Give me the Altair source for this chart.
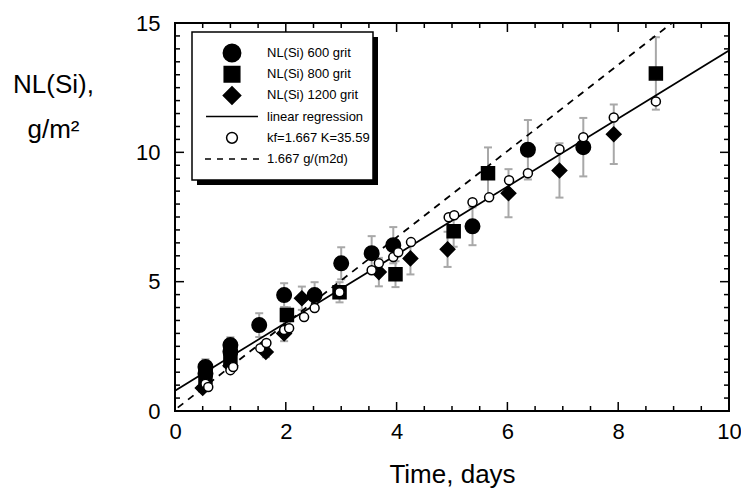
import altair as alt
import pandas as pd

# ---------------- data ----------------
labels = ["NL(Si) 600 grit", "NL(Si) 800 grit", "NL(Si) 1200 grit",
          "linear regression", "kf=1.667 K=35.59", "1.667 g/(m2d)"]

t600 = [0.55, 0.55, 1.00, 1.00, 1.52, 1.97, 2.52, 3.00, 3.55, 3.94, 5.37, 6.37, 7.37]
v600 = [1.70, 1.45, 2.55, 2.30, 3.32, 4.48, 4.48, 5.71, 6.10, 6.41, 7.14, 10.10, 10.20]
e600 = [0.30, 0.00, 0.30, 0.00, 0.46, 0.46, 0.50, 0.62, 0.66, 0.70, 0.73, 1.15, 1.13]

t800 = [0.55, 1.00, 2.02, 2.97, 3.98, 5.03, 5.65, 8.68]
v800 = [1.31, 1.97, 3.71, 4.59, 5.29, 6.95, 9.19, 13.05]
e800 = [0.20, 0.20, 0.30, 0.39, 0.50, 0.60, 1.00, 1.40]

t1200 = [0.50, 1.00, 1.64, 1.97, 2.29, 3.68, 4.25, 4.92, 6.02, 6.94, 7.92]
v1200 = [0.89, 1.75, 2.28, 3.00, 4.36, 5.37, 5.90, 6.25, 8.42, 9.30, 10.70]
e1200 = [0.15, 0.20, 0.20, 0.30, 0.45, 0.55, 0.62, 0.68, 0.93, 1.05, 1.15]

t_model = [0.55, 0.60, 1.00, 1.05, 1.54, 1.65, 1.97, 2.06, 2.33, 2.52, 2.97, 3.55, 3.68,
           3.94, 4.03, 4.26, 4.94, 5.04, 5.37, 5.67, 6.03, 6.37, 6.94, 7.37, 7.92, 8.68]
v_model = [1.05, 0.93, 1.58, 1.70, 2.43, 2.63, 3.13, 3.20, 3.63, 3.98, 4.59, 5.44, 5.71,
           5.95, 6.14, 6.53, 7.49, 7.57, 8.07, 8.26, 8.92, 9.19, 10.12, 10.58, 11.35, 11.97]

reg_t = [0.0, 10.0]
reg_v = [0.78, 13.94]
dash_t = [0.05, 8.97]
dash_v = [0.13, 15.0]

x_major = [0, 2, 4, 6, 8, 10]
x_minor = [0.5, 1, 1.5, 2.5, 3, 3.5, 4.5, 5, 5.5, 6.5, 7, 7.5, 8.5, 9, 9.5]
y_major = [0, 5, 10, 15]
y_minor = [v / 2 for v in range(31) if v % 10 != 0]

# ---------------- styles ----------------
PAD = "M0,-1.6M0,1.6"  # invisible moves: equal legend row heights
CIRCLE = "M1.45,0A1.45,1.45,0,1,1,-1.45,0A1.45,1.45,0,1,1,1.45,0Z" + PAD
SQUARE = "M-1.3,-1.3H1.3V1.3H-1.3Z" + PAD
DIAMOND = "M0,-1.45L1.45,0L0,1.45L-1.45,0Z" + PAD
LINE = "M-4.33,0H4.33" + PAD
OPEN = "M0.9,0A0.9,0.9,0,1,1,-0.9,0A0.9,0.9,0,1,1,0.9,0Z" + PAD
DASH = "M-4.5,0H-3.5M-2.5,0H-1.5M-0.5,0H0.5M1.5,0H2.5M3.5,0H4.5" + PAD
shape_range = [CIRCLE, SQUARE, DIAMOND, LINE, OPEN, DASH]
fill_range = ["black", "black", "black", "black", "white", "black"]
stroke_range = ["black"] * 6
GRAY = "#a8a8a8"
W, H = 554, 388
MAJ, MIN = 9, 5

# ---------------- tables ----------------
pts_rows = []
for lab, ts, vs in [(labels[2], t1200, v1200), (labels[1], t800, v800),
                    (labels[0], t600, v600), (labels[4], t_model, v_model)]:
    for t, v in zip(ts, vs):
        pts_rows.append({"s": lab, "t": t, "v": v})
pts = pd.DataFrame(pts_rows)

err_rows, cap_rows = [], []
for ts, vs, es in [(t600, v600, e600), (t800, v800, e800), (t1200, v1200, e1200)]:
    for t, v, e in zip(ts, vs, es):
        if e > 0:
            err_rows.append({"t": t, "lo": v - e, "hi": v + e})
            cap_rows.append({"t": t, "v": v - e})
            cap_rows.append({"t": t, "v": v + e})
errs_df = pd.DataFrame(err_rows)
caps_df = pd.DataFrame(cap_rows)
reg_df = pd.DataFrame({"t": reg_t, "v": reg_v})
dash_df = pd.DataFrame({"t": dash_t, "v": dash_v})

xs = alt.Scale(domain=[0, 10], nice=False, zero=False)
ys = alt.Scale(domain=[0, 15], nice=False, zero=False)

x_labels = alt.Axis(orient="bottom", values=x_major, ticks=False, domain=False, grid=False,
                    labelPadding=10, labelFlush=False, titleY=50, titleBaseline="top")
y_labels = alt.Axis(orient="left", values=y_major, ticks=False, domain=False, grid=False,
                    labelPadding=15, titleAngle=0, titleAlign="center",
                    titleBaseline="alphabetic", titleX=-122, titleY=69, titleLineHeight=45)


# inward tick marks on all four frame edges, positioned by the shared scales
def x_ticks(vals, length, at_bottom):
    y0 = H if at_bottom else 0
    y1 = H - length if at_bottom else length
    return alt.Chart(pd.DataFrame({"p": vals})).mark_rule(color="black", strokeWidth=1.5).encode(
        x=alt.X("p:Q", scale=xs, axis=None), y=alt.value(y0), y2=alt.value(y1))


def y_ticks(vals, length, at_left):
    x0 = 0 if at_left else W
    x1 = length if at_left else W - length
    return alt.Chart(pd.DataFrame({"p": vals})).mark_rule(color="black", strokeWidth=1.5).encode(
        y=alt.Y("p:Q", scale=ys, axis=None), x=alt.value(x0), x2=alt.value(x1))


ticks = [x_ticks(x_major, MAJ, True), x_ticks(x_minor, MIN, True),
         x_ticks(x_major, MAJ, False), x_ticks(x_minor, MIN, False),
         y_ticks(y_major, MAJ, True), y_ticks(y_minor, MIN, True),
         y_ticks(y_major, MAJ, False), y_ticks(y_minor, MIN, False)]

one = alt.InlineData(values=[{"k": 1}])

shadow = alt.Chart(one).mark_rect(fill="black").encode(
    x=alt.value(22), x2=alt.value(203), y=alt.value(14), y2=alt.value(162))
box = alt.Chart(one).mark_rect(fill="white", stroke="black", strokeWidth=1.5).encode(
    x=alt.value(17), x2=alt.value(198), y=alt.value(9), y2=alt.value(157))

errs = alt.Chart(errs_df).mark_rule(color=GRAY, strokeWidth=2).encode(
    x=alt.X("t:Q", scale=xs, axis=x_labels, title="Time, days"),
    y=alt.Y("lo:Q", scale=ys, axis=y_labels, title=["NL(Si),", "g/m²"]),
    y2="hi:Q")

caps = alt.Chart(caps_df).mark_tick(color=GRAY, orient="horizontal", size=8,
                                    thickness=2, opacity=1).encode(
    x=alt.X("t:Q", scale=xs, axis=None),
    y=alt.Y("v:Q", scale=ys, axis=None))

reg = alt.Chart(reg_df).mark_line(color="black", strokeWidth=1.8).encode(
    x=alt.X("t:Q", scale=xs, axis=None),
    y=alt.Y("v:Q", scale=ys, axis=None))

dash = alt.Chart(dash_df).mark_line(color="black", strokeWidth=1.8, strokeDash=[7, 6]).encode(
    x=alt.X("t:Q", scale=xs, axis=None),
    y=alt.Y("v:Q", scale=ys, axis=None))

points = alt.Chart(pts).mark_point(size=100, strokeWidth=1.5, opacity=1).encode(
    x=alt.X("t:Q", scale=xs, axis=None),
    y=alt.Y("v:Q", scale=ys, axis=None),
    shape=alt.Shape("s:N", scale=alt.Scale(domain=labels, range=shape_range), title=None),
    fill=alt.Fill("s:N", scale=alt.Scale(domain=labels, range=fill_range), title=None),
    stroke=alt.Stroke("s:N", scale=alt.Scale(domain=labels, range=stroke_range), title=None),
)

chart = alt.layer(shadow, box, errs, caps, reg, dash, *ticks, points).resolve_axis(
    x="independent", y="independent"
).properties(
    width=W, height=H,
    padding={"left": 167, "top": 15, "right": 12, "bottom": 79},
    autosize=alt.AutoSizeParams(type="none"),
).configure(
    font="Liberation Sans"
).configure_view(
    stroke="black", strokeWidth=2
).configure_axis(
    labelFontSize=22, labelColor="black", labelFont="Liberation Sans",
    titleFontSize=26, titleFontWeight="normal", titleColor="black",
    titleFont="Liberation Sans"
).configure_legend(
    orient="none", legendX=22, legendY=23, padding=0,
    labelFontSize=13, labelColor="black", labelFont="Liberation Sans", labelLimit=300,
    symbolSize=144, symbolStrokeWidth=1.5, symbolOffset=28, labelOffset=28, rowPadding=-4.8
)

chart.save("out.html", embed_options={"renderer": "svg", "actions": False})
